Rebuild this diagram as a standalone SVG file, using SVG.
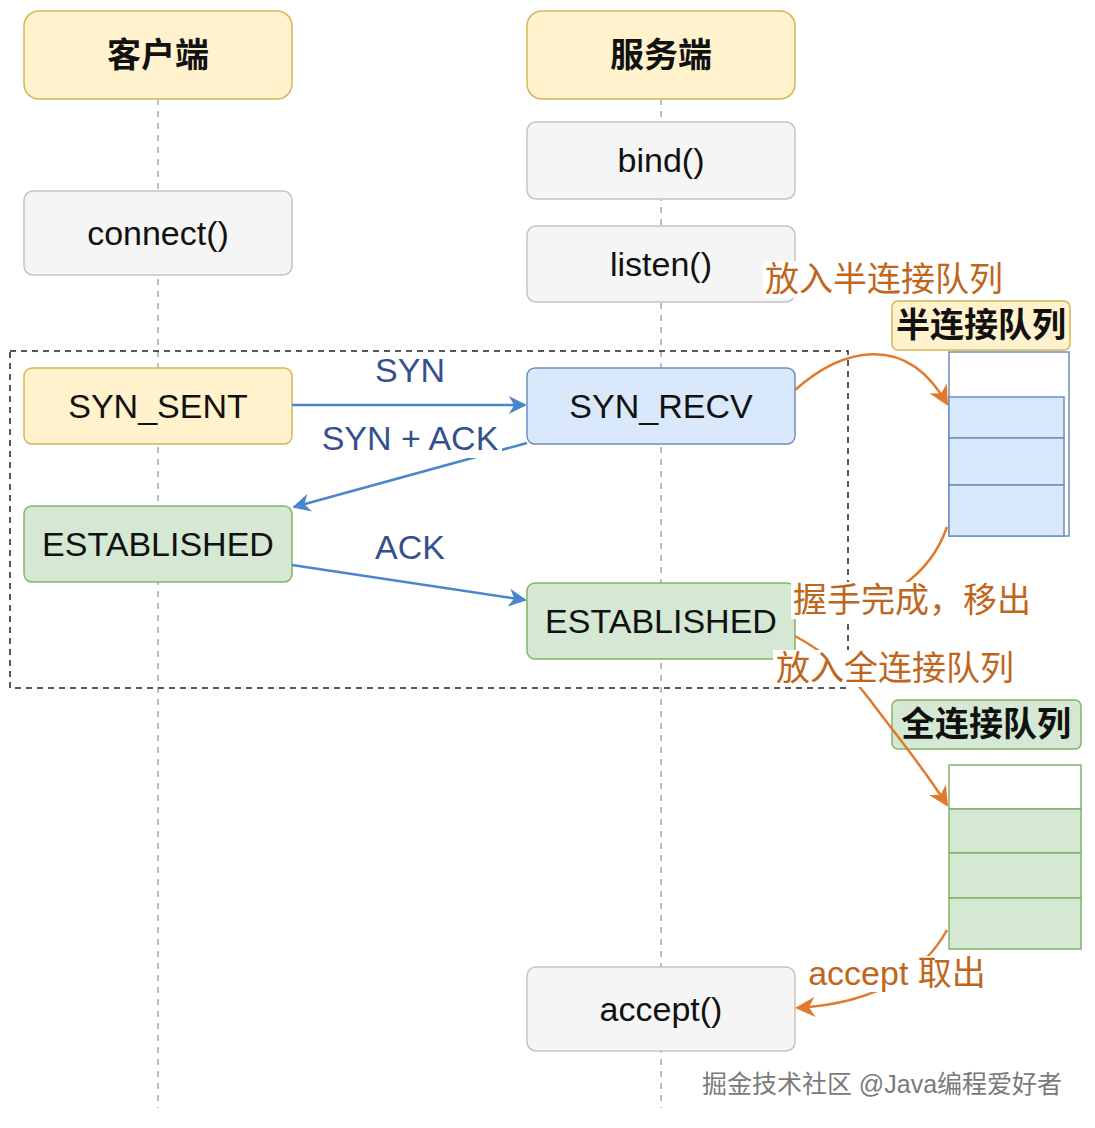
<svg xmlns="http://www.w3.org/2000/svg" width="1095" height="1128" viewBox="0 0 1095 1128">
<style>
text{font-family:"Liberation Sans","Noto Sans CJK SC",sans-serif;font-size:34px;text-anchor:middle}
.t{fill:#111}
.b{font-weight:bold}
.yel{fill:#fff2cc;stroke:#d6b656;stroke-width:1.5}
.gry{fill:#f5f5f5;stroke:#c4c4c4;stroke-width:1.5}
.blu{fill:#dae8fc;stroke:#6c8ebf;stroke-width:1.5}
.grn{fill:#d5e8d4;stroke:#82b366;stroke-width:1.5}
.life{stroke:#aaaaaa;stroke-width:1.5;stroke-dasharray:6 6;fill:none}
.msg{stroke:#4a86cc;stroke-width:2.5;fill:none}
.ml{fill:#35508f}
.or{stroke:#e07a2c;stroke-width:2.5;fill:none}
.ol{fill:#c0661c}
</style>
<defs>
<marker id="ab" viewBox="0 0 10 10" refX="9" refY="5" markerWidth="20" markerHeight="18" orient="auto" markerUnits="userSpaceOnUse">
<path d="M0,0 L10,5 L0,10 L3,5 Z" fill="#4a86cc"/>
</marker>
<marker id="ao" viewBox="0 0 10 10" refX="9" refY="5" markerWidth="22" markerHeight="20" orient="auto" markerUnits="userSpaceOnUse">
<path d="M0,0 L10,5 L0,10 L3,5 Z" fill="#e07a2c"/>
</marker>
</defs>
<rect width="1095" height="1128" fill="#ffffff"/>
<g id="lifelines">
<line class="life" x1="158" y1="99" x2="158" y2="1108"/>
<line class="life" x1="661" y1="99" x2="661" y2="1108"/>
</g>
<rect id="handshake-frame" x="10" y="351" width="838" height="337" fill="none" stroke="#222" stroke-width="1.5" stroke-dasharray="6 5"/>
<g id="client"><rect class="yel" x="24" y="11" width="268" height="88" rx="15"/><text class="t b" x="158" y="67">客户端</text></g>
<g id="server"><rect class="yel" x="527" y="11" width="268" height="88" rx="15"/><text class="t b" x="661" y="67">服务端</text></g>
<g id="connect"><rect class="gry" x="24" y="191" width="268" height="84" rx="9"/><text class="t" x="158" y="245">connect()</text></g>
<g id="bind"><rect class="gry" x="527" y="122" width="268" height="77" rx="9"/><text class="t" x="661" y="172">bind()</text></g>
<g id="listen"><rect class="gry" x="527" y="226" width="268" height="76" rx="9"/><text class="t" x="661" y="276">listen()</text></g>
<g id="syn-sent"><rect class="yel" x="24" y="368" width="268" height="76" rx="8"/><text class="t" x="158" y="418">SYN_SENT</text></g>
<g id="syn-recv"><rect class="blu" x="527" y="368" width="268" height="76" rx="8"/><text class="t" x="661" y="418">SYN_RECV</text></g>
<g id="established-client"><rect class="grn" x="24" y="506" width="268" height="76" rx="8"/><text class="t" x="158" y="556">ESTABLISHED</text></g>
<g id="established-server"><rect class="grn" x="527" y="583" width="268" height="76" rx="8"/><text class="t" x="661" y="633">ESTABLISHED</text></g>
<g id="accept"><rect class="gry" x="527" y="967" width="268" height="84" rx="9"/><text class="t" x="661" y="1021">accept()</text></g>
<g id="half-queue-label"><rect class="yel" x="892" y="301" width="178" height="49" rx="6"/><text class="t b" x="981" y="337">半连接队列</text></g>
<g id="half-queue">
<rect x="949" y="352" width="120" height="184" fill="#ffffff" stroke="#6c8ebf" stroke-width="1.5"/>
<rect class="blu" x="949" y="397" width="115" height="41"/>
<rect class="blu" x="949" y="438" width="115" height="47"/>
<rect class="blu" x="949" y="485" width="115" height="51"/>
</g>
<g id="full-queue-label"><rect class="grn" x="892" y="700" width="189" height="49" rx="6"/><text class="t b" x="986" y="736">全连接队列</text></g>
<g id="full-queue">
<rect x="949" y="765" width="132" height="44" fill="#ffffff" stroke="#82b366" stroke-width="1.5"/>
<rect class="grn" x="949" y="809" width="132" height="44"/>
<rect class="grn" x="949" y="853" width="132" height="45"/>
<rect class="grn" x="949" y="898" width="132" height="51"/>
</g>
<g id="connectors">
<line class="msg" x1="292" y1="405" x2="525" y2="405" marker-end="url(#ab)"/>
<text class="ml" x="410" y="382">SYN</text>
<line class="msg" x1="527" y1="443" x2="294" y2="507" marker-end="url(#ab)"/>
<rect x="318" y="422" width="184" height="36" fill="#ffffff"/>
<text class="ml" x="410" y="450">SYN + ACK</text>
<line class="msg" x1="292" y1="565" x2="525" y2="600" marker-end="url(#ab)"/>
<text class="ml" x="410" y="559">ACK</text>
<path class="or" d="M795,390 C840,350 905,330 947,404" marker-end="url(#ao)"/>
<rect x="763" y="261" width="243" height="37" fill="#ffffff"/>
<text class="ol" x="884" y="291">放入半连接队列</text>
<path class="or" d="M947,527 C930,575 890,605 812,617"/>
<rect x="791" y="582" width="244" height="37" fill="#ffffff"/>
<text class="ol" x="912" y="612">握手完成，移出</text>
<path class="or" d="M795,636 C830,655 855,680 870,700 C900,740 925,770 947,805" marker-end="url(#ao)"/>
<rect x="773" y="650" width="245" height="37" fill="#ffffff"/>
<text class="ol" x="895" y="680">放入全连接队列</text>
<path class="or" d="M947,930 C925,970 880,1003 797,1008" marker-end="url(#ao)"/>
<rect x="806" y="956" width="184" height="36" fill="#ffffff"/>
<text class="ol" x="897" y="985">accept 取出</text>
</g>
<text x="882" y="1093" style="font-size:25px;fill:#7a7a7a;stroke:#ffffff;stroke-width:3;paint-order:stroke">掘金技术社区 @Java编程爱好者</text>
</svg>
